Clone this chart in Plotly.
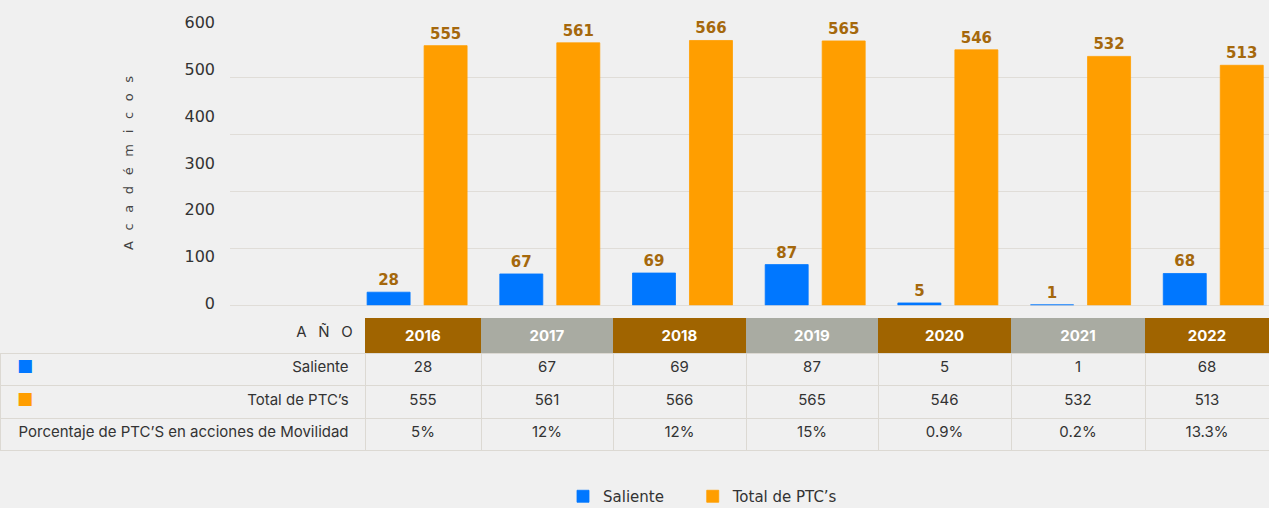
import plotly.graph_objects as go

# ---------------- data ----------------
years = ["2016", "2017", "2018", "2019", "2020", "2021", "2022"]
saliente = [28, 67, 69, 87, 5, 1, 68]
total_ptc = [555, 561, 566, 565, 546, 532, 513]
porcentaje = ["5%", "12%", "12%", "15%", "0.9%", "0.2%", "13.3%"]
y_tick_vals = [0, 100, 200, 300, 400, 500, 600]
row_labels = ["Saliente", "Total de PTC’s", "Porcentaje de PTC’S en acciones de Movilidad"]
header_label = "A\u2002\u00a0Ñ\u2002\u00a0O"
series_names = ["Saliente", "Total de PTC’s"]
y_title = "\u2002\u00a0".join(list("Académicos"))

# ---------------- styles ----------------
BLUE = "#0077ff"
ORANGE = "#ff9e00"
BROWN = "#a06400"
GRAY = "#a9aba2"
LABEL = "#a5680c"
BG = "#f0f0f0"
LINE = "#dcd9d3"
GRID = "#e0ddd8"
TEXT = "#333333"
CLEAR = "rgba(0,0,0,0)"
PAD = "\u00a0"
W, H = 1269, 508

fig = go.Figure()

legend_pads = [PAD * 5, ""]
for k, (name, vals, col) in enumerate([(series_names[0], saliente, BLUE), (series_names[1], total_ptc, ORANGE)]):
    fig.add_bar(
        x=years, y=vals, name=name + legend_pads[k], marker_color=col,
        marker_line=dict(width=0.8, color=col),
        texttemplate="<b>%{y}</b>", textposition="outside", constraintext="none",
        textfont=dict(family="DejaVu Sans", size=15, color=LABEL),
        cliponaxis=False, hoverinfo="skip",
    )

# ---------------- table ----------------
n = len(years)
col_values = [[header_label + PAD] + [lab + PAD * 2 for lab in row_labels]]
for i in range(n):
    col_values.append(["<b>%s</b>" % years[i], str(saliente[i]), str(total_ptc[i]), porcentaje[i]])

head_fill = [BROWN if i % 2 == 0 else GRAY for i in range(n)]
fill_colors = [[BG, CLEAR, CLEAR, CLEAR]] + [[c, CLEAR, CLEAR, CLEAR] for c in head_fill]
line_colors = [[BG, LINE, LINE, LINE]] + [[c, LINE, LINE, LINE] for c in head_fill]
font_colors = [[TEXT, TEXT, TEXT, TEXT]] + [["white", TEXT, TEXT, TEXT] for _ in range(n)]
empty_header = dict(values=[""] * (n + 1), height=1, fill=dict(color=BG), line=dict(color=BG, width=0))

fig.add_trace(go.Table(
    domain=dict(x=[0, 1], y=[0, 1 - 317 / H]),
    columnwidth=[365, 116, 132, 133, 132, 133, 134, 124],
    header=empty_header,
    cells=dict(
        values=col_values,
        height=32.5,
        align=["right"] + ["center"] * n,
        fill=dict(color=fill_colors),
        line=dict(color=line_colors, width=1),
        font=dict(color=font_colors, family="Inter", size=15),
    ),
))

# legend swatches inside the table's label column
fig.add_trace(go.Table(
    domain=dict(x=[9 / W, 45 / W], y=[0, 1 - 317 / H]),
    header=dict(values=[""], height=1, fill=dict(color=CLEAR), line=dict(color=CLEAR, width=0)),
    cells=dict(
        values=[["", "■", "■", ""]],
        height=32.5,
        align="left",
        fill=dict(color=CLEAR),
        line=dict(color=CLEAR, width=0),
        font=dict(color=[[BG, BLUE, ORANGE, BG]], family="DejaVu Sans", size=17),
    ),
))

fig.update_layout(
    width=W, height=H,
    margin=dict(l=0, r=0, t=0, b=0, autoexpand=False),
    paper_bgcolor=BG, plot_bgcolor=CLEAR,
    barmode="group", bargap=0.141, bargroupgap=0.2456,
    font=dict(family="DejaVu Sans", color=TEXT),
    showlegend=True,
    legend=dict(
        orientation="h", x=563 / W, xanchor="left", y=1 - 480 / H, yanchor="top",
        font=dict(family="DejaVu Sans", size=15, color=TEXT),
        bgcolor=CLEAR, itemclick=False,
    ),
    xaxis=dict(
        domain=[230 / W, 1], range=[-1.41, 6.42], type="category",
        showticklabels=False, showgrid=False, zeroline=False, fixedrange=True,
    ),
    yaxis=dict(
        domain=[1 - 305.3 / H, 1 - 20.7 / H], range=[0, 608.3],
        tickmode="array", tickvals=y_tick_vals, showgrid=False,
        zeroline=True, zerolinecolor=GRID, zerolinewidth=1.2,
        tickfont=dict(family="DejaVu Sans", size=16, color=TEXT),
        ticklabelstandoff=14, ticklabelshift=-2,
        minor=dict(tickmode="linear", tick0=0, dtick=121.6, showgrid=True,
                   gridcolor=GRID, gridwidth=1.2, ticks=""),
        title=dict(text=y_title, font=dict(family="DejaVu Sans", size=13, color="#444444"),
                   standoff=47),
        fixedrange=True,
    ),
)

fig.write_html("out.html", config={"displayModeBar": False},
               post_script="document.body.style.margin='0px';")
